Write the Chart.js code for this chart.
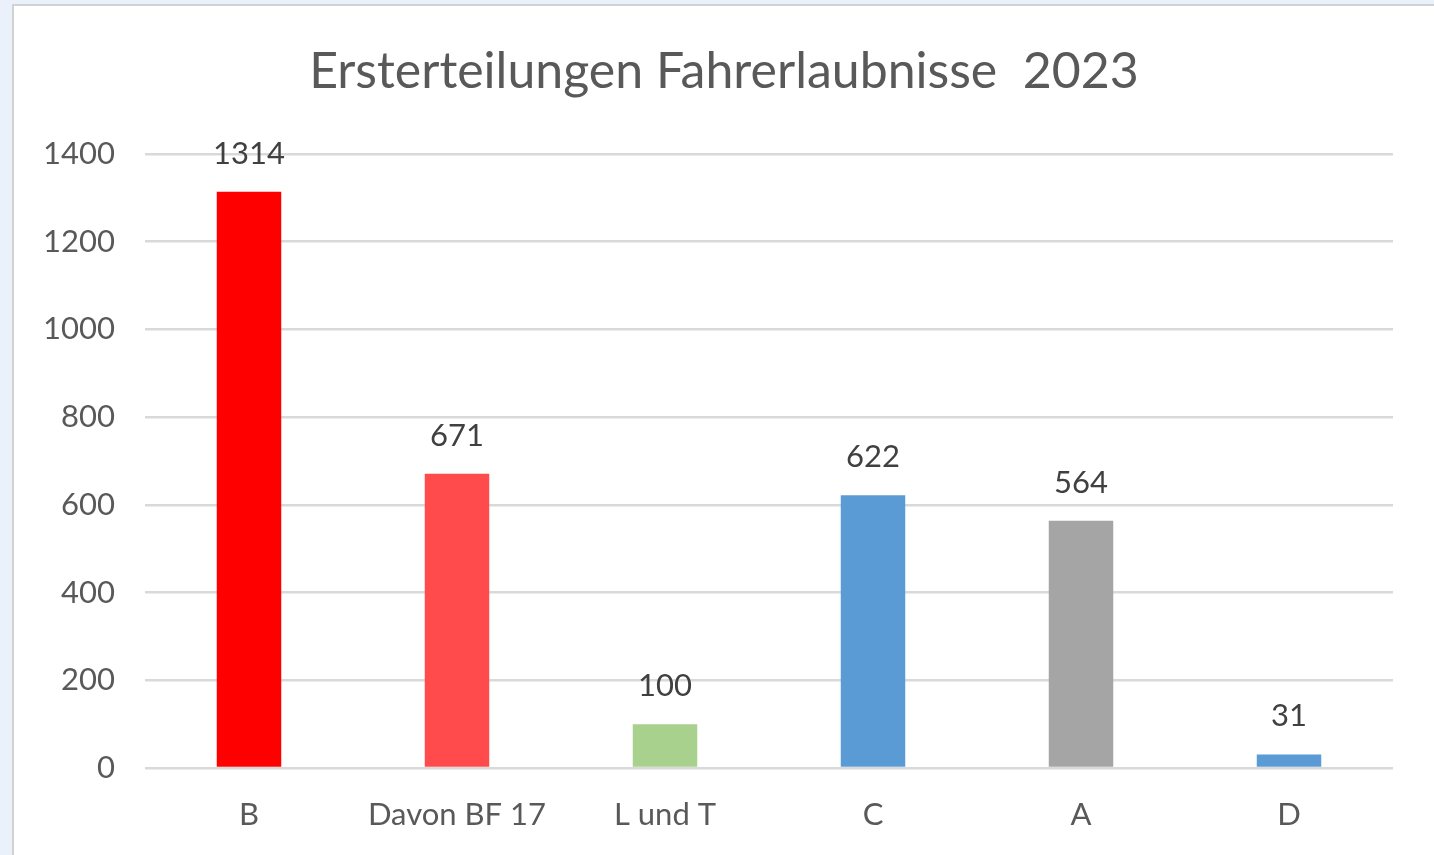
<!DOCTYPE html>
<html>
<head>
<meta charset="utf-8">
<script src="https://cdn.jsdelivr.net/npm/chart.js@4"></script>
<style>
  html, body { margin: 0; padding: 0; background: #eaf1fa; }
  #box {
    position: absolute; left: 12px; top: 4px; width: 1422px; height: 851px;
    background: #fff; border-left: 2px solid #d2d2d2; border-top: 2px solid #d2d2d2;
  }
  canvas { display: block; }
</style>
</head>
<body>
<div id="box"><canvas id="chart" width="1420" height="849"></canvas></div>
<script>
// data
const categories = ['B', 'Davon BF 17', 'L und T', 'C', 'A', 'D'];
const values = [1314, 671, 100, 622, 564, 31];
const barColors = ['#ff0000', '#ff4b4b', '#a9d18e', '#5b9bd5', '#a5a5a5', '#5b9bd5'];
const yTicks = [0, 200, 400, 600, 800, 1000, 1200, 1400];
const titleText = 'Ersterteilungen Fahrerlaubnisse  2023';

const fontFamily = 'Lato, "Open Sans", sans-serif';

// draws value labels above each bar, and the title centred on the whole canvas
const valueLabels = {
  id: 'valueLabels',
  afterDatasetsDraw(chart) {
    const ctx = chart.ctx;
    const meta = chart.getDatasetMeta(0);
    ctx.save();
    ctx.font = '31px ' + fontFamily;
    ctx.fillStyle = '#404040';
    ctx.textAlign = 'center';
    ctx.textBaseline = 'middle';
    meta.data.forEach((bar, i) => {
      ctx.fillText(String(values[i]), bar.x, bar.y - 38);
    });
    // title: the built-in one only reserves the space
    const tb = chart.titleBlock;
    ctx.font = '50px ' + fontFamily;
    ctx.fillStyle = '#595959';
    ctx.fillText(titleText, chart.width / 2, tb.top + 36 + 30);
    ctx.restore();
  }
};

new Chart(document.getElementById('chart'), {
  type: 'bar',
  data: {
    labels: categories,
    datasets: [{
      data: values,
      backgroundColor: barColors,
      categoryPercentage: 1,
      barPercentage: 0.31
    }]
  },
  options: {
    responsive: false,
    animation: false,
    layout: { padding: { left: 0, right: 41, top: 0, bottom: 0 } },
    scales: {
      x: {
        grid: { display: false, drawTicks: false },
        border: { display: false },
        ticks: { color: '#595959', font: { size: 31, family: fontFamily }, padding: 28 },
        afterFit(scale) { scale.height = 87; }
      },
      y: {
        min: 0,
        max: 1400,
        afterBuildTicks(scale) { scale.ticks = yTicks.map(v => ({ value: v })); },
        grid: { color: '#d9d9d9', lineWidth: 2.5, drawTicks: false },
        border: { display: false },
        ticks: {
          color: '#595959',
          font: { size: 31, family: fontFamily },
          padding: 30,
          callback: v => String(v)
        },
        afterFit(scale) { scale.width = 131; }
      }
    },
    plugins: {
      legend: { display: false },
      tooltip: { enabled: false },
      title: {
        display: true,
        text: titleText,
        color: 'rgba(0,0,0,0)',
        font: { size: 50, family: fontFamily, weight: 'normal' },
        padding: { top: 36, bottom: 52 }
      }
    }
  },
  plugins: [valueLabels]
});
</script>
</body>
</html>
